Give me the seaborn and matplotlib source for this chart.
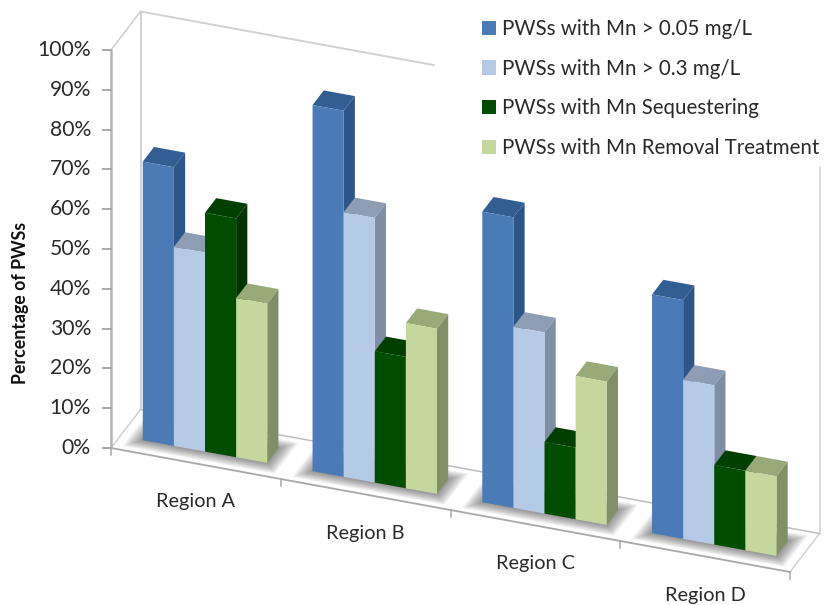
import matplotlib
matplotlib.use("Agg")
import matplotlib.pyplot as plt
from matplotlib.patches import Polygon
from matplotlib.transforms import Affine2D
import pandas as pd
import seaborn as sns

# Percentages by region and series
regions = ["Region A", "Region B", "Region C", "Region D"]
series_names = [
    "PWSs with Mn > 0.05 mg/L",
    "PWSs with Mn > 0.3 mg/L",
    "PWSs with Mn Sequestering",
    "PWSs with Mn Removal Treatment",
]
above_005 = [70, 92, 73, 60]
above_03 = [50, 66.5, 45.5, 40]
sequestering = [60, 33, 18, 20]
removal = [40, 41.5, 36, 20]
value_ticks = list(range(0, 101, 10))

front_colors = ["#4A7BB6", "#B5CAE5", "#004D00", "#C4D79C"]
top_colors = ["#325E94", "#8D9DB4", "#003F00", "#98AA78"]
side_colors = ["#2E5587", "#7E8EA5", "#003500", "#808F65"]

# Oblique projection: category position, depth and value to pixels
ORIGIN_X, ORIGIN_Y = 111.0, 448.0
BAND_DX, BAND_DY = 169.75, 31.0
DEPTH_DX, DEPTH_DY = 29.5, -38.5
VALUE_DY = -3.98
DEPTH_FRONT, DEPTH_BACK = 0.31, 0.69


def project(cat, depth, value):
    return (ORIGIN_X + BAND_DX * cat + DEPTH_DX * depth,
            ORIGIN_Y + BAND_DY * cat + DEPTH_DY * depth + VALUE_DY * value)


plt.rcParams["font.family"] = ["Lato", "DejaVu Sans"]
fig = plt.figure(figsize=(8.35, 6.05), dpi=100)
ax = fig.add_axes([0, 0, 1, 1])

table = pd.DataFrame({
    "region": regions * 4,
    "series": [name for name in series_names for _ in regions],
    "percent": above_005 + above_03 + sequestering + removal,
})
sns.barplot(data=table, x="region", y="percent", hue="series", order=regions,
            hue_order=series_names, palette=front_colors, saturation=1,
            width=0.733, linewidth=0, ax=ax)
handles, labels = ax.get_legend_handles_labels()
ax.get_legend().remove()

# Bars come from seaborn with centred categories; shift them by half a band
front_shear = Affine2D.from_values(
    BAND_DX, BAND_DY, 0, VALUE_DY,
    ORIGIN_X + BAND_DX * 0.5 + DEPTH_DX * DEPTH_FRONT,
    ORIGIN_Y + BAND_DY * 0.5 + DEPTH_DY * DEPTH_FRONT,
)

ax.set_xlim(0, 835)
ax.set_ylim(605, 0)
ax.axis("off")

group_extent = {}
for h, container in enumerate(ax.containers):
    for g, bar in enumerate(container.patches):
        bar.set_transform(front_shear + ax.transData)
        bar.set_clip_on(False)
        base_z = 10 + g * 10 + h * 2
        bar.set_zorder(base_z + 1)
        left = bar.get_x() + 0.5
        right = left + bar.get_width()
        value = bar.get_height()
        top_face = [project(left, DEPTH_FRONT, value),
                    project(right, DEPTH_FRONT, value),
                    project(right, DEPTH_BACK, value),
                    project(left, DEPTH_BACK, value)]
        side_face = [project(right, DEPTH_FRONT, 0),
                     project(right, DEPTH_BACK, 0),
                     project(right, DEPTH_BACK, value),
                     project(right, DEPTH_FRONT, value)]
        ax.add_patch(Polygon(top_face, closed=True, fc=top_colors[h], ec="none", zorder=base_z))
        ax.add_patch(Polygon(side_face, closed=True, fc=side_colors[h], ec="none", zorder=base_z))
        lo, hi = group_extent.get(g, (left, right))
        group_extent[g] = (min(lo, left), max(hi, right))

# Soft floor shadow built from nested translucent footprints
for g, (lo, hi) in group_extent.items():
    for k in range(14, 0, -1):
        du, dd = k * 1.0 / BAND_DX, k * 0.6 / abs(DEPTH_DY)
        shadow = [project(lo - du, DEPTH_FRONT - dd, 0),
                  project(hi + du, DEPTH_FRONT - dd, 0),
                  project(hi + du, DEPTH_BACK + dd, 0),
                  project(lo - du, DEPTH_BACK + dd, 0)]
        ax.add_patch(Polygon(shadow, closed=True, fc="#303030", ec="none",
                             alpha=0.045, zorder=5))

# Chart frame: walls, floor and axis
wall_color = "#D2D2D2"
floor_color = "#BDBDBD"


def frame_line(points, color, width, z=3):
    xs, ys = zip(*points)
    ax.plot(xs, ys, color=color, lw=width, zorder=z, solid_capstyle="round")


n = len(regions)
frame_line([project(0, 0, 0), project(0, 1, 0)], wall_color, 1.1)
frame_line([project(0, 1, 0), project(n, 1, 0)], floor_color, 1.1)
frame_line([project(n, 0, 0), project(n, 1, 0)], wall_color, 1.1)
frame_line([project(0, 1, 0), project(0, 1, 100)], wall_color, 1.4)
frame_line([project(0, 0, 100), project(0, 1, 100)], wall_color, 1.2)
frame_line([project(0, 1, 100), project(1.73, 1, 100)], wall_color, 1.4)
frame_line([project(n, 1, 0), project(n, 1, 92)], wall_color, 1.1)
frame_line([project(0, 0, 0), project(n, 0, 0)], "#A8A8A8", 1.3, z=6)
frame_line([project(0, 0, 0), project(0, 0, 100)], "#B4B4B4", 1.8, z=6)

for i in range(n + 1):
    x0, y0 = project(i, 0, 0)
    ax.plot([x0, x0], [y0, y0 + 7], color="#A8A8A8", lw=1.1, zorder=6)

for v in value_ticks:
    x0, y0 = project(0, 0, v)
    ax.plot([x0 - 8, x0], [y0, y0], color="#A8A8A8", lw=1.4, zorder=6)
    ax.text(x0 - 20, y0, f"{v}%", ha="right", va="center", fontsize=15.2, color="#2A2A2A")

for i, name in enumerate(regions):
    x0, y0 = project(i + 0.5, 0, 0)
    ax.text(x0, y0 + 38.5, name, ha="center", va="center", fontsize=14.3, color="#2A2A2A")

ax.text(21, 303, "Percentage of PWSs", rotation=90, ha="center", va="center",
        fontsize=12.8, fontweight="bold", color="#111111")

ax.legend(handles, labels, loc="upper left", bbox_to_anchor=(482, 19),
          bbox_transform=ax.transData, frameon=False, fontsize=14.8,
          handlelength=0.68, handleheight=0.68, handletextpad=0.3,
          labelspacing=0.96, labelcolor="#2A2A2A", borderpad=0, borderaxespad=0)

fig.savefig("out.png", dpi=100, facecolor="white")
